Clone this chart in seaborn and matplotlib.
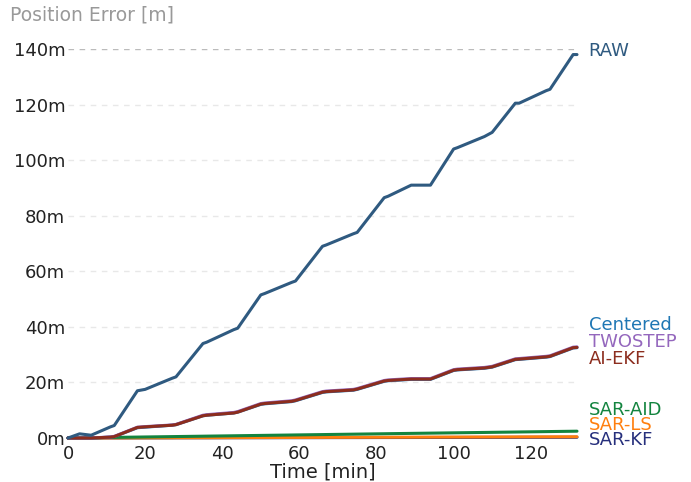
import matplotlib
matplotlib.use("Agg")
import matplotlib.pyplot as plt
import seaborn as sns
import pandas as pd

# ---- data ----
time_min = [0, 3, 6, 11, 12, 18, 20, 27, 28, 35, 36, 43, 44, 50, 51, 58, 59, 66, 67,
            74, 75, 82, 83, 89, 94, 100, 101, 108, 110, 116, 117, 124, 125, 131, 132]
raw = [0, 1.5, 1, 4, 4.5, 17, 17.5, 21.5, 22, 34, 34.5, 39, 39.5, 51.5, 52, 56, 56.5, 69, 69.5,
       73.5, 74, 86.5, 87, 91, 91, 104, 104.5, 108.5, 110, 120.5, 120.5, 125, 125.5, 138, 138]
centered = [0, 0, 0, 0.3, 0.5, 3.7, 3.9, 4.6, 4.8, 8.0, 8.2, 9.0, 9.3, 12.1, 12.3, 13.1, 13.4,
            16.4, 16.6, 17.2, 17.5, 20.4, 20.6, 21.1, 21.1, 24.3, 24.5, 25.1, 25.5, 28.2, 28.3,
            29.1, 29.3, 32.4, 32.5]
twostep = [0, 0, 0, 0.4, 0.6, 3.9, 4.1, 4.7, 4.9, 8.2, 8.4, 9.2, 9.5, 12.4, 12.6, 13.4, 13.7,
           16.7, 16.9, 17.5, 17.8, 20.7, 20.9, 21.4, 21.4, 24.6, 24.8, 25.4, 25.8, 28.5, 28.6,
           29.4, 29.6, 32.7, 32.8]
ai_ekf = [0, 0, 0, 0.3, 0.5, 3.8, 4.0, 4.6, 4.8, 8.0, 8.2, 9.0, 9.3, 12.2, 12.4, 13.2, 13.5,
          16.5, 16.7, 17.3, 17.6, 20.5, 20.7, 21.2, 21.2, 24.4, 24.6, 25.2, 25.6, 28.3, 28.4,
          29.2, 29.4, 32.5, 32.6]
sar_aid = [0, 0.05, 0.1, 0.2, 0.22, 0.33, 0.37, 0.5, 0.52, 0.65, 0.67, 0.8, 0.82, 0.93, 0.95,
           1.08, 1.1, 1.23, 1.25, 1.38, 1.4, 1.53, 1.55, 1.66, 1.75, 1.86, 1.88, 2.0, 2.04,
           2.15, 2.17, 2.3, 2.32, 2.43, 2.45]
sar_ls = [0, 0.01, 0.02, 0.04, 0.04, 0.06, 0.07, 0.09, 0.1, 0.12, 0.12, 0.15, 0.15, 0.17, 0.17,
          0.2, 0.2, 0.22, 0.23, 0.25, 0.26, 0.28, 0.28, 0.3, 0.32, 0.34, 0.34, 0.36, 0.37,
          0.39, 0.4, 0.42, 0.42, 0.44, 0.45]
sar_kf = [0, 0.01, 0.01, 0.02, 0.02, 0.04, 0.04, 0.05, 0.06, 0.07, 0.07, 0.09, 0.09, 0.1, 0.1,
          0.12, 0.12, 0.13, 0.14, 0.15, 0.15, 0.17, 0.17, 0.18, 0.19, 0.2, 0.2, 0.22, 0.22,
          0.23, 0.24, 0.25, 0.25, 0.26, 0.27]

series_names = ["RAW", "Centered", "TWOSTEP", "AI-EKF", "SAR-AID", "SAR-LS", "SAR-KF"]
series_vals = [raw, centered, twostep, ai_ekf, sar_aid, sar_ls, sar_kf]
colors = {"RAW": "#2f5a80", "Centered": "#1f77b4", "TWOSTEP": "#9467bd", "AI-EKF": "#8c2d1e",
          "SAR-AID": "#13843f", "SAR-LS": "#ff7f0e", "SAR-KF": "#262f7c"}
y_ticks = [0, 20, 40, 60, 80, 100, 120, 140]
x_ticks = [0, 20, 40, 60, 80, 100, 120]
label_y = {"RAW": 139.4, "Centered": 40.8, "TWOSTEP": 34.6, "AI-EKF": 28.5,
           "SAR-AID": 9.9, "SAR-LS": 4.8, "SAR-KF": -0.6}

rows = []
for name, vals in zip(series_names, series_vals):
    for t, v in zip(time_min, vals):
        rows.append({"Time": t, "Error": v, "Series": name})
df = pd.DataFrame(rows)

sns.set_style("white")
plt.rcParams["font.family"] = ["DejaVu Sans"]

fig = plt.figure(figsize=(6.91, 4.82), dpi=100)
ax = fig.add_axes([68 / 691, 1 - 438 / 482, (577 - 68) / 691, (438 - 49) / 482])

for y in y_ticks[1:]:
    ax.axhline(y, color="#bbbbbb" if y == 140 else "#e8e8e8", lw=1, ls=(0, (4, 4)), zorder=0)

draw_order = ["SAR-KF", "SAR-LS", "SAR-AID", "Centered", "TWOSTEP", "AI-EKF", "RAW"]
for name in draw_order:
    sub = df[df["Series"] == name]
    sns.lineplot(data=sub, x="Time", y="Error", color=colors[name], lw=2.2, ax=ax,
                 legend=False, clip_on=False, estimator=None, sort=False)

for name in series_names:
    ax.text(135, label_y[name], name, color=colors[name], fontsize=13,
            va="center", ha="left", clip_on=False)

ax.set_xlim(0, 132)
ax.set_ylim(0, 140)
ax.set_xticks(x_ticks)
ax.set_yticks(y_ticks)
ax.set_yticklabels([f"{v}m" for v in y_ticks])
ax.tick_params(axis="both", length=0, labelsize=13, colors="#222222", pad=2)
ax.tick_params(axis="x", pad=5)
for s in ax.spines.values():
    s.set_visible(False)
ax.set_xlabel("Time [min]", fontsize=14, color="#222222", labelpad=0)
ax.set_ylabel("")
fig.text(10 / 691, 1 - 15 / 482, "Position Error [m]", fontsize=13.5, color="#999999",
         va="center", ha="left")

fig.savefig("out.png", dpi=100)
